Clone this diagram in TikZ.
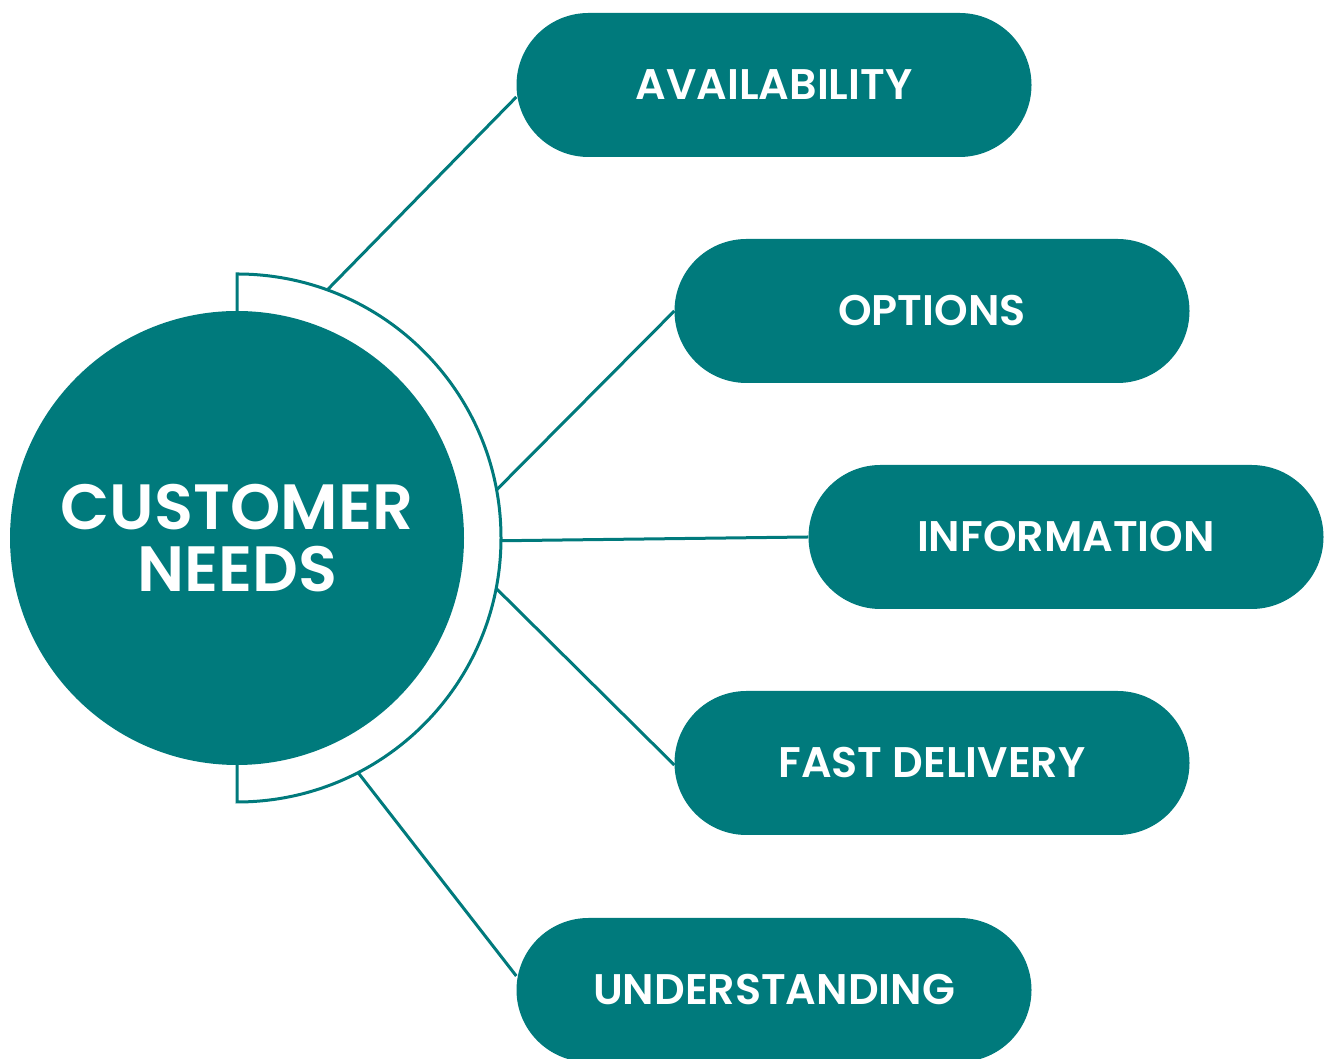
\documentclass[tikz,border=0pt]{standalone}
\usepackage{fontspec}
\setmainfont{Poppins}[BoldFont={Poppins SemiBold}]
\usetikzlibrary{calc}
\definecolor{teal}{RGB}{0,122,124}
\tikzset{
  pill/.style={fill=teal, text=white, rounded corners=72pt, minimum width=515pt,
    minimum height=144pt, inner sep=0pt, font=\bfseries\fontsize{42.8}{46}\selectfont},
  hub/.style={circle, fill=teal, text=white, minimum size=454pt, inner sep=0pt,
    align=center, font=\bfseries\fontsize{64}{70}\selectfont},
  link/.style={draw=teal, line width=3pt}
}
\begin{document}
\begin{tikzpicture}[x=1pt,y=1pt]
			%%%%% START %%%%%
			\useasboundingbox (0,0) rectangle (1325,1059);
			
			\node[hub] (needs) at (237,521) {CUSTOMER\\[-8pt]NEEDS};
			\draw[link] (237,748) -- (237,785) arc (90:-90:264) -- (237,294);
			
			\node[pill] (avail) at (774,974) {AVAILABILITY};
			\node[pill] (options) at (932,748) {OPTIONS};
			\node[pill] (info) at (1066,522) {INFORMATION};
			\node[pill] (fast) at (932,296) {FAST DELIVERY};
			\node[pill] (under) at (774,69) {UNDERSTANDING};
			
			\coordinate (a1) at ($(needs.center)+(70:264)$);
			\coordinate (a2) at ($(needs.center)+(10.5:264)$);
			\coordinate (a3) at ($(needs.center)+(-0.6:264)$);
			\coordinate (a4) at ($(needs.center)+(-11:264)$);
			\coordinate (a5) at ($(needs.center)+(-62.7:264)$);
			
			\draw[link] (a1) -- ([yshift=-12pt]avail.west);
			\draw[link] (a2) -- (options.west);
			\draw[link] (a3) -- (info.west);
			\draw[link] (a4) -- ([yshift=-2pt]fast.west);
			\draw[link] (a5) -- ([yshift=14pt]under.west);
			
			%%%%% END %%%%%
\end{tikzpicture}
\end{document}
